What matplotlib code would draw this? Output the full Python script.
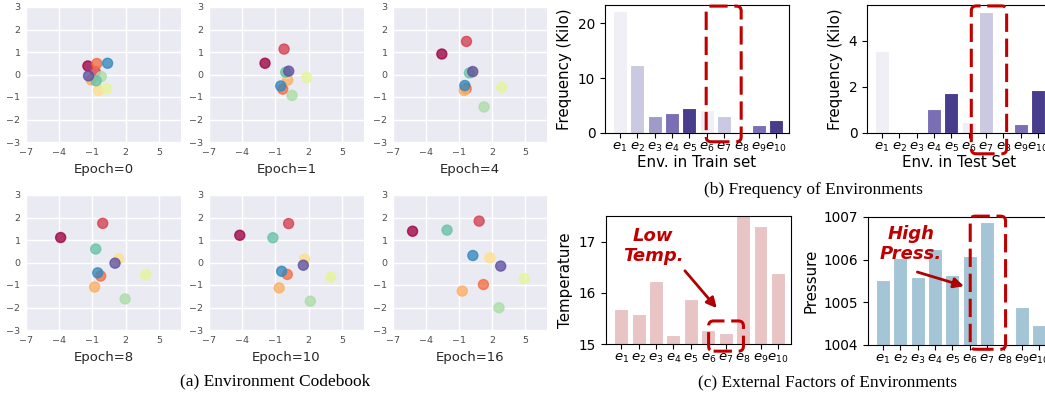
import numpy as np
import matplotlib

matplotlib.use("Agg")
import matplotlib.pyplot as plt
from matplotlib.patches import FancyBboxPatch

W, H = 1045, 396

# --- data ----------------------------------------------------------------------

epochs = [0, 1, 4, 8, 10, 16]
ep0_x = [-1.41, -0.75, -0.60, -1.11, -0.45, 0.31, -0.20, -0.66, 0.37, -1.35]
ep0_y = [0.38, 0.13, 0.49, -0.24, -0.71, -0.63, -0.09, -0.28, 0.50, -0.06]
ep1_x = [-1.94, -0.22, -0.34, 0.11, 0.00, 1.83, 0.50, -0.07, -0.52, 0.20]
ep1_y = [0.50, 1.13, -0.65, -0.25, 0.05, -0.13, -0.93, 0.10, -0.51, 0.15]
ep4_x = [-2.56, -0.32, -0.35, -0.53, 0.25, 2.88, 1.28, -0.05, -0.47, 0.25]
ep4_y = [0.91, 1.47, -0.63, -0.71, 0.10, -0.57, -1.44, 0.07, -0.49, 0.13]
ep8_x = [-3.87, -0.07, -0.25, -0.80, 1.37, 3.81, 1.95, -0.70, -0.52, 1.04]
ep8_y = [1.11, 1.74, -0.60, -1.09, 0.16, -0.55, -1.62, 0.60, -0.46, -0.03]
ep10_x = [-4.22, 0.19, 0.07, -0.66, 1.64, 4.00, 2.15, -1.23, -0.44, 1.52]
ep10_y = [1.21, 1.73, -0.53, -1.13, 0.15, -0.65, -1.72, 1.10, -0.39, -0.12]
ep16_x = [-5.22, 0.83, 1.22, -0.70, 1.80, 4.93, 2.64, -2.09, 0.26, 2.79]
ep16_y = [1.39, 1.84, -0.98, -1.27, 0.21, -0.71, -2.01, 1.44, 0.31, -0.16]
code_colors = ["#9e0142", "#d53e4f", "#f46d43", "#fdae61", "#fee08b",
               "#e6f598", "#abdda4", "#66c2a5", "#3288bd", "#5e4fa2"]

env_labels = [f"$e_{{{i}}}$" for i in range(1, 11)]
train_freq = [22.2, 12.4, 3.1, 3.6, 4.5, 4.2, 3.1, 0.0, 1.5, 2.4]
test_freq = [3.57, 0.0, 0.0, 1.02, 1.73, 0.49, 5.25, 0.0, 0.40, 1.84]
temperature = [15.69, 15.58, 16.23, 15.18, 15.88, 15.27, 15.21, 17.6, 17.31, 16.39]
pressure = [1005.52, 1006.03, 1005.59, 1006.24, 1005.63, 1006.09, 1006.89, np.nan, 1004.88, 1004.48]
freq_palette = ["#f0eff6", "#cbc9e2", "#9f9bc9", "#7a6fb5", "#483d8c"]

RED = "#c00000"

fig = plt.figure(figsize=(W / 100, H / 100), dpi=100)


def px_axes(left, top, right, bottom):
    return fig.add_axes([left / W, 1 - bottom / H, (right - left) / W, (bottom - top) / H])


# --- (a) codebook scatters --------------------------------------------------------

def codebook(ax, xs, ys, epoch):
    ax.set_facecolor("#EAEAF2")
    for s in ax.spines.values():
        s.set_visible(False)
    ax.grid(True, color="white", lw=1.0)
    ax.set_axisbelow(True)
    ax.scatter(xs, ys, c=code_colors, edgecolors=code_colors, s=52, lw=1.0, alpha=0.78, zorder=3)
    ax.set_xlim(-7, 7)
    ax.set_ylim(-3, 3)
    ax.set_xticks([-7, -4, -1, 2, 5])
    ax.set_yticks(range(-3, 4))
    ax.tick_params(length=0, pad=4, labelsize=6.8, labelcolor=".3")
    ax.set_xlabel(f"Epoch={epoch}", fontsize=9.5, color=".15", labelpad=5)


scatter_pts = [(ep0_x, ep0_y), (ep1_x, ep1_y), (ep4_x, ep4_y),
               (ep8_x, ep8_y), (ep10_x, ep10_y), (ep16_x, ep16_y)]
cols = [(26, 181), (209, 364), (393, 547)]
rows = [(7, 142), (195, 330)]
for i, (xs, ys) in enumerate(scatter_pts):
    (l, r), (t, b) = cols[i % 3], rows[i // 3]
    codebook(px_axes(l, t, r, b), xs, ys, epochs[i])

# --- (b)/(c) bar panels -----------------------------------------------------------

purple_cycle = [freq_palette[i % 5] for i in range(10)]


def bars(ax, vals, colors, ylabel, xlabel=None):
    x = np.arange(len(vals))
    ax.bar(x, vals, width=0.8, color=colors, edgecolor="white", lw=0.8)
    ax.set_xticks(x)
    ax.set_xticklabels(env_labels, fontsize=9.5)
    ax.set_xlim(-0.87, 9.75)
    ax.tick_params(axis="x", pad=2, length=3.5)
    ax.tick_params(axis="y", labelsize=9.8, length=3.5)
    ax.set_ylabel(ylabel, fontsize=10.8)
    if xlabel:
        ax.set_xlabel(xlabel, fontsize=10.8, labelpad=1)


def red_box(ax, x0, x1, y0, y1, r_px=5):
    pos = ax.get_position()
    xl, yl = ax.get_xlim(), ax.get_ylim()
    px_x = pos.width * W / (xl[1] - xl[0])
    px_y = pos.height * H / (yl[1] - yl[0])
    ax.add_patch(FancyBboxPatch(
        (x0, y0), x1 - x0, y1 - y0,
        boxstyle=f"round,pad=0,rounding_size={r_px / px_x}",
        mutation_aspect=px_x / px_y, fill=False, ec=RED, lw=2.2,
        ls=(0, (6, 2.2)), clip_on=False, zorder=5))


def callout(ax, text, txy, tail, tip):
    ax.text(*txy, text, color=RED, fontsize=13, fontweight="bold", fontstyle="italic",
            ha="center", va="center", linespacing=1.15, zorder=6)
    ax.annotate("", xy=tip, xytext=tail, zorder=6,
                arrowprops=dict(arrowstyle="-|>", color="#b00000", lw=2.0,
                                mutation_scale=15, shrinkA=0, shrinkB=0))


ax_tr = px_axes(605, 5, 789, 133)
bars(ax_tr, train_freq, purple_cycle, "Frequency (Kilo)", "Env. in Train set")
ax_tr.set_ylim(0, 23.3)
ax_tr.set_yticks([0, 10, 20])
red_box(ax_tr, 4.97, 6.99, -1.6, 23.1)

ax_te = px_axes(867, 5, 1051, 133)
bars(ax_te, test_freq, purple_cycle, "Frequency (Kilo)", "Env. in Test Set")
ax_te.set_ylim(0, 5.54)
ax_te.set_yticks([0, 2, 4])
red_box(ax_te, 5.15, 7.19, -0.9, 5.5)

ax_tp = px_axes(606, 216, 791, 344)
bars(ax_tp, temperature, ["#e8c4c5"] * 10, "Temperature")
ax_tp.set_ylim(15, 17.5)
ax_tp.set_yticks([15, 16, 17])
red_box(ax_tp, 5.02, 7.02, 14.86, 15.45)
callout(ax_tp, "Low\nTemp.", (1.84, 16.91), (3.66, 16.43), (5.49, 15.70))

ax_pr = px_axes(868, 217, 1052, 345)
bars(ax_pr, pressure, ["#a3c5d5"] * 10, "Pressure")
ax_pr.set_ylim(1004, 1007)
ax_pr.set_yticks([1004, 1005, 1006, 1007])
red_box(ax_pr, 5.03, 7.07, 1003.9, 1007.02)
callout(ax_pr, "High\nPress.", (1.62, 1006.37), (1.98, 1005.71), (4.67, 1005.38))

# --- captions ---------------------------------------------------------------------

cap = dict(fontsize=12.5, family="Liberation Serif", ha="center", va="center")
fig.text(275 / W, 1 - 381 / H, "(a) Environment Codebook", **cap)
fig.text(813 / W, 1 - 190 / H, "(b) Frequency of Environments", **cap)
fig.text(828 / W, 1 - 382 / H, "(c) External Factors of Environments", **cap)

fig.savefig("out.png", dpi=100)
